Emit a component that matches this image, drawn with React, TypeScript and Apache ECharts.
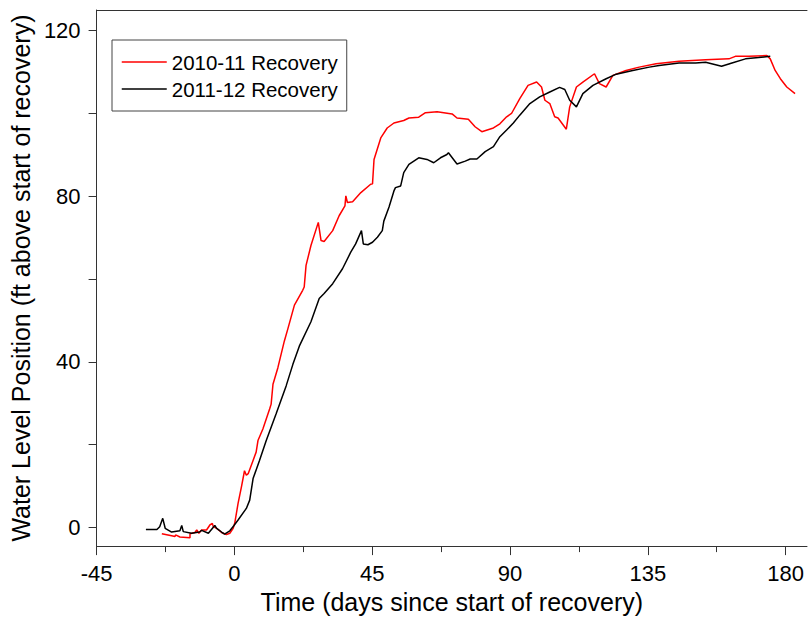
import React, { useEffect, useRef } from "react";
import * as echarts from "echarts";

const seriesNames = ["2010-11 Recovery", "2011-12 Recovery"];
const xLabelValues = [-45, 0, 45, 90, 135, 180];
const xMinorTickValues = [-22.5, 22.5, 67.5, 112.5, 157.5];
const yLabelValues = [0, 40, 80, 120];
const yTickValues = [0, 20, 40, 60, 80, 100, 120];

// [days since start of recovery, ft above start of recovery]
const recovery2010_11: [number, number][] = [
  [-23.7, -1.5], [-20.5, -2.0], [-19.4, -2.2], [-19.2, -1.8], [-17.8, -2.3], [-14.5, -2.5],
  [-14.5, -1.5], [-12.9, -1.2], [-12.3, -0.6], [-11.6, -1.4], [-10.7, -0.6], [-9.1, -0.6],
  [-8.0, 0.6], [-7.2, 1.0], [-6.9, 0.2], [-5.8, -0.2], [-4.2, -1.2], [-2.6, -1.7],
  [-1.5, -1.4], [-0.4, -0.2], [0.1, 1.0], [1.2, 5.8], [2.3, 9.8], [3.3, 13.7],
  [3.9, 12.6], [4.5, 13.0], [6.1, 16.2], [7.1, 18.2], [7.7, 21.0], [9.3, 23.8],
  [11.5, 28.6], [12.0, 29.8], [12.6, 34.6], [14.2, 38.6], [16.3, 45.0], [17.5, 48.1],
  [19.6, 53.7], [22.3, 57.3], [22.8, 58.1], [23.4, 63.3], [25.0, 68.1], [27.4, 73.7],
  [28.3, 69.3], [29.3, 69.1], [32.1, 71.7], [34.2, 75.3], [36.1, 77.7], [36.4, 80.1],
  [36.9, 78.5], [38.6, 78.7], [41.3, 80.9], [44.5, 82.9], [45.1, 83.0], [45.6, 88.9],
  [47.8, 94.1], [49.9, 96.5], [52.1, 97.7], [55.3, 98.3], [57.0, 98.9], [60.2, 99.1],
  [62.4, 100.2], [66.2, 100.4], [71.1, 99.9], [72.7, 98.9], [76.4, 98.6], [78.6, 96.8],
  [80.8, 95.6], [84.6, 96.5], [86.7, 97.5], [88.9, 99.2], [90.5, 100.0], [93.2, 103.6],
  [95.9, 106.8], [98.7, 107.6], [100.3, 106.4], [101.4, 103.2], [103.0, 102.4], [104.6, 99.2],
  [105.7, 98.9], [108.4, 96.2], [109.5, 101.6], [111.7, 106.4], [113.8, 107.6], [117.6, 109.6],
  [119.2, 107.2], [121.4, 106.4], [123.6, 109.2], [127.9, 110.4], [132.2, 111.2], [137.7, 112.0],
  [145.2, 112.6], [153.9, 113.0], [161.5, 113.2], [163.6, 113.8], [168.0, 113.8], [173.9, 114.0],
  [175.0, 113.2], [176.6, 110.4], [178.3, 108.4], [180.4, 106.4], [183.1, 104.8],
];

const recovery2011_12: [number, number][] = [
  [-28.9, -0.5], [-25.3, -0.5], [-24.4, 0.2], [-23.4, 2.2], [-22.6, -0.2], [-20.5, -1.1],
  [-17.8, -0.8], [-17.2, 0.5], [-16.7, -1.0], [-14.0, -1.4], [-11.4, -1.1], [-10.7, -0.7],
  [-8.5, -1.4], [-6.4, 0.5], [-5.8, -0.2], [-4.2, -1.1], [-3.2, -1.6], [-1.5, -0.8],
  [-0.2, 0.4], [1.2, 1.8], [3.9, 4.6], [5.0, 6.6], [6.1, 11.8], [8.2, 16.2],
  [10.4, 21.0], [13.6, 27.4], [16.9, 34.2], [19.1, 39.4], [21.2, 43.8], [25.0, 49.7],
  [27.7, 55.3], [29.3, 56.5], [32.1, 58.9], [35.3, 62.5], [38.0, 66.5], [39.6, 68.5],
  [41.5, 71.7], [42.1, 68.5], [43.6, 68.3], [45.1, 68.9], [46.7, 70.1], [48.3, 71.7],
  [48.8, 74.0], [50.5, 77.4], [52.1, 81.3], [52.6, 82.1], [54.3, 82.5], [55.3, 85.7],
  [57.0, 87.7], [60.2, 89.3], [62.9, 88.9], [65.1, 88.1], [67.3, 89.3], [69.4, 90.1],
  [69.9, 90.5], [72.7, 87.8], [75.4, 88.5], [77.0, 89.0], [79.2, 89.0], [81.9, 90.8],
  [84.6, 92.0], [86.7, 94.4], [88.9, 96.0], [91.1, 97.7], [93.2, 99.6], [96.5, 102.4],
  [99.7, 104.0], [103.0, 105.2], [106.2, 106.3], [107.9, 105.8], [109.5, 103.2], [111.7, 101.6],
  [113.8, 104.8], [117.1, 106.8], [121.4, 108.4], [124.7, 109.5], [130.1, 110.4], [135.5, 111.2],
  [138.7, 111.6], [145.2, 112.2], [150.6, 112.2], [153.9, 112.4], [159.1, 111.4], [162.5, 112.2],
  [166.9, 113.2], [171.2, 113.5], [175.0, 113.8],
];

const FONT = "'Liberation Sans', Arial, sans-serif";
const AXIS_COLOR = "#333";

export default function App() {
  const ref = useRef<HTMLDivElement>(null);
  useEffect(() => {
    if (!ref.current) return;
    const chart = echarts.init(ref.current, null, { renderer: "svg" });
    const xMin = -45;
    const xMax = 187;
    chart.setOption({
      animation: false,
      backgroundColor: "#fff",
      grid: { left: 94, right: 2, top: 10, bottom: 69, containLabel: false },
      legend: {
        left: 112,
        top: 40,
        orient: "vertical",
        data: seriesNames,
        itemWidth: 45,
        itemHeight: 22,
        itemGap: 5,
        padding: [11, 9, 11, 9],
        borderColor: "#444",
        borderWidth: 1,
        borderRadius: 0,
        itemStyle: { opacity: 0 },
        lineStyle: { width: 1.5 },
        textStyle: { fontFamily: FONT, fontSize: 20.5, color: "#000", lineHeight: 22 },
      },
      xAxis: [
        {
          type: "value",
          min: xMin,
          max: xMax,
          position: "bottom",
          name: "Time (days since start of recovery)",
          nameLocation: "middle",
          nameGap: 41,
          nameTextStyle: { fontFamily: FONT, fontSize: 25, color: "#000" },
          axisLine: { show: true, onZero: false, lineStyle: { color: AXIS_COLOR, width: 1 } },
          axisTick: { show: true, length: 9, customValues: xLabelValues, lineStyle: { color: AXIS_COLOR } },
          axisLabel: { show: true, customValues: xLabelValues, margin: 16, fontFamily: FONT, fontSize: 22, color: "#000" },
          splitLine: { show: false },
        },
        {
          type: "value",
          min: xMin,
          max: xMax,
          position: "bottom",
          axisLine: { show: false, onZero: false },
          axisTick: { show: true, length: 6, customValues: xMinorTickValues, lineStyle: { color: AXIS_COLOR } },
          axisLabel: { show: false },
          splitLine: { show: false },
        },
        {
          type: "value",
          min: xMin,
          max: xMax,
          position: "top",
          axisLine: { show: true, onZero: false, lineStyle: { color: AXIS_COLOR, width: 1 } },
          axisTick: { show: false },
          axisLabel: { show: false },
          splitLine: { show: false },
        },
      ],
      yAxis: {
        type: "value",
        min: -4.5,
        max: 125,
        position: "left",
        name: "Water Level Position (ft above start of recovery)",
        nameLocation: "middle",
        nameGap: 51,
        nameTextStyle: { fontFamily: FONT, fontSize: 25, color: "#000" },
        axisLine: { show: true, onZero: false, lineStyle: { color: AXIS_COLOR, width: 1 } },
        axisTick: { show: true, length: 8, customValues: yTickValues, lineStyle: { color: AXIS_COLOR } },
        axisLabel: { show: true, customValues: yLabelValues, margin: 16, fontFamily: FONT, fontSize: 22, color: "#000" },
        splitLine: { show: false },
      },
      series: [
        {
          name: seriesNames[0],
          type: "line",
          xAxisIndex: 0,
          data: recovery2010_11,
          symbol: "none",
          lineStyle: { color: "#ff0000", width: 1.5 },
          itemStyle: { color: "#ff0000" },
        },
        {
          name: seriesNames[1],
          type: "line",
          xAxisIndex: 0,
          data: recovery2011_12,
          symbol: "none",
          lineStyle: { color: "#000000", width: 1.5 },
          itemStyle: { color: "#000000" },
        },
      ],
    });
    return () => chart.dispose();
  }, []);
  return <div ref={ref} style={{ position: "fixed", left: 0, top: 0, width: 809, height: 619 }} />;
}
